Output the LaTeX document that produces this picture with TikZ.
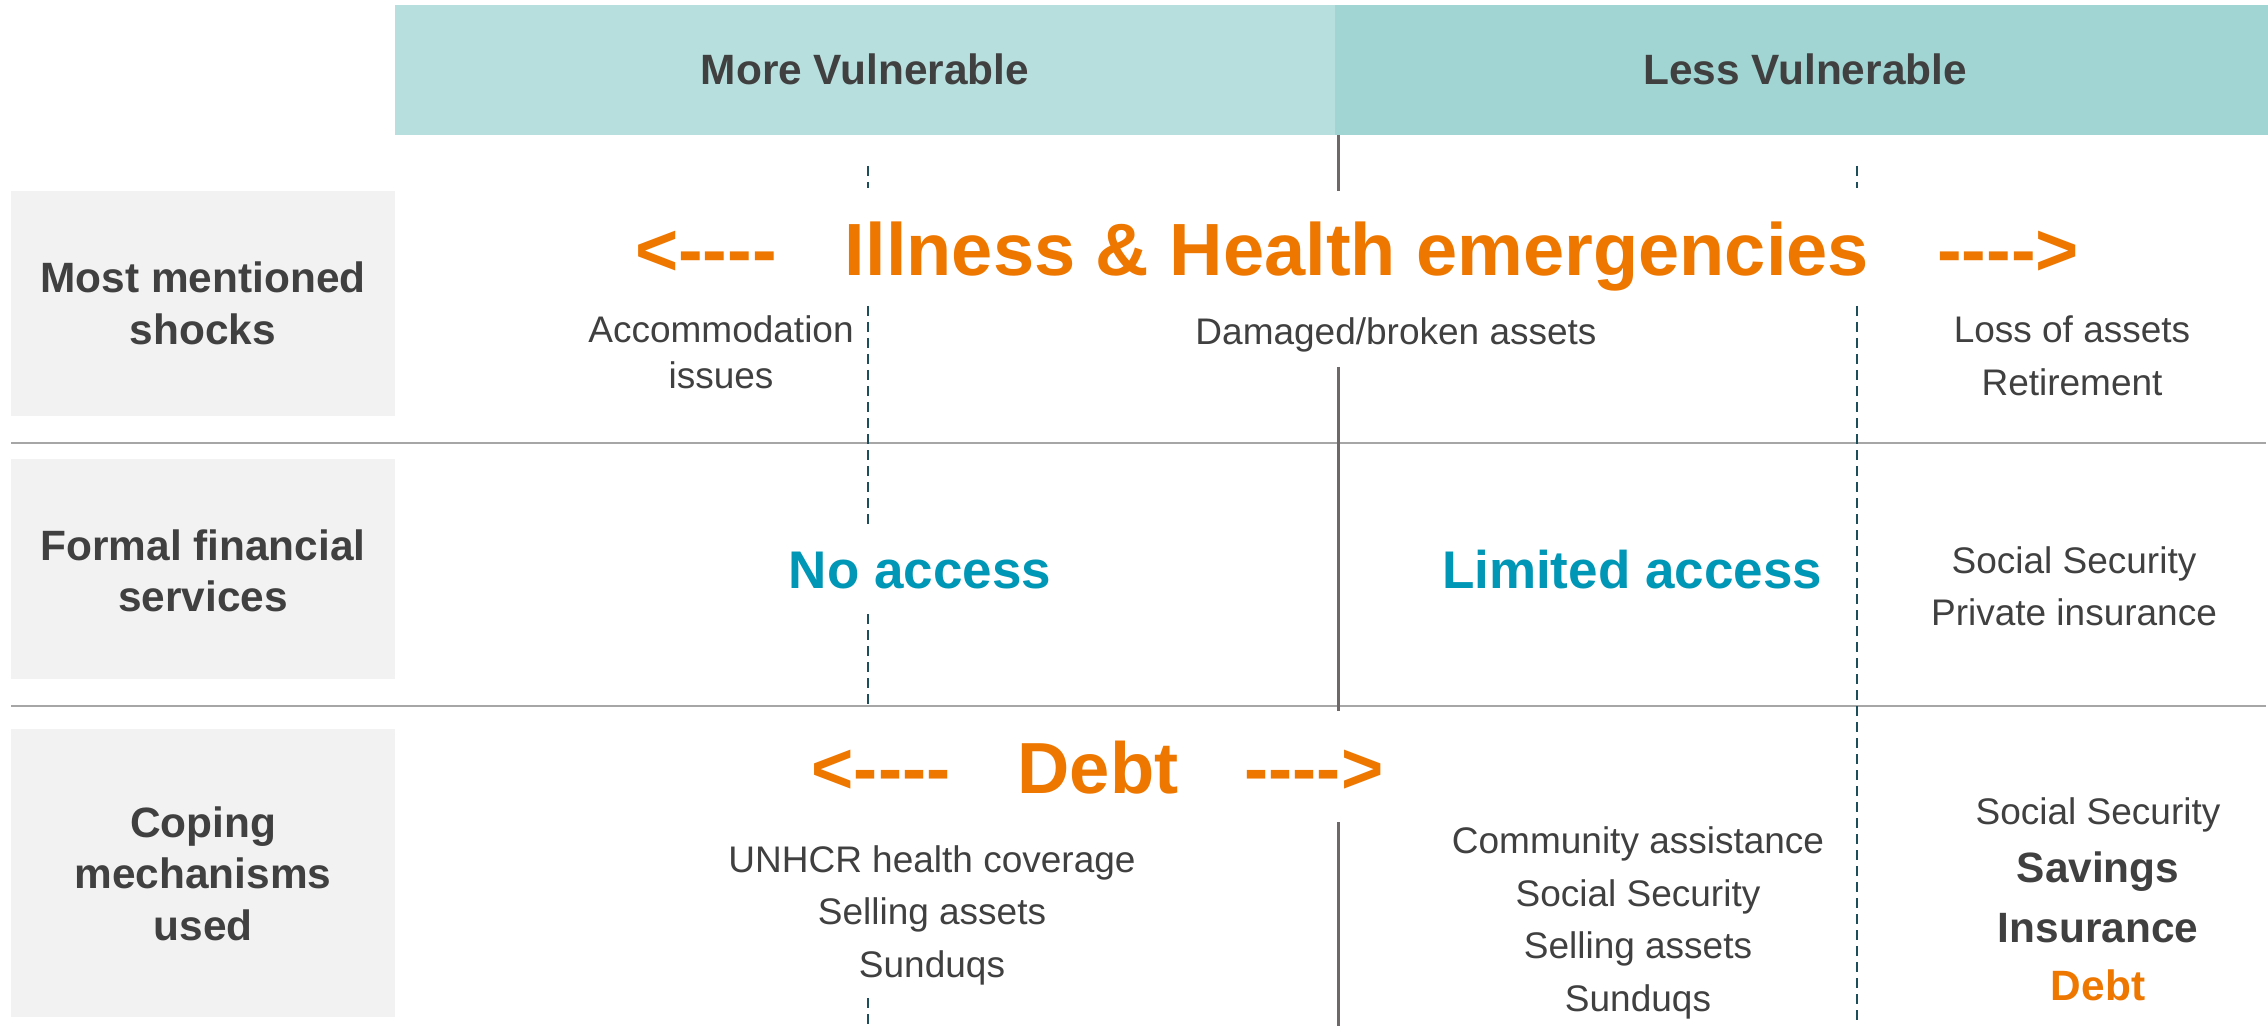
\documentclass[tikz,border=0pt]{standalone}
\usepackage{fontspec}
\setmainfont{Liberation Sans}
\definecolor{bandA}{HTML}{B6DFDE}
\definecolor{bandB}{HTML}{A0D5D3}
\definecolor{cellgray}{HTML}{F2F2F2}
\definecolor{ink}{HTML}{404040}
\definecolor{orng}{HTML}{EE7700}
\definecolor{accblue}{HTML}{0096B6}
\definecolor{rule}{HTML}{A6A6A6}
\definecolor{divider}{HTML}{6E6868}
\definecolor{dashc}{HTML}{1E4D5C}
% arrow-like strings built from separate hyphens (no dash ligatures)
\newcommand{\leftdashes}{<-{}-{}-{}-}
\newcommand{\rightdashes}{-{}-{}-{}->}
\tikzset{
  every node/.style={inner sep=0pt, anchor=base},
  plain/.style={text=ink, font=\fontsize{18.5}{22}\selectfont},
  strong/.style={text=ink, font=\fontsize{21.2}{25}\selectfont\bfseries},
  shock/.style={text=orng, font=\fontsize{37}{44}\selectfont\bfseries},
  debtbig/.style={text=orng, font=\fontsize{36.2}{43}\selectfont\bfseries},
  access/.style={text=accblue, font=\fontsize{26.5}{31}\selectfont\bfseries},
  hline/.style={draw=rule, line width=1.3pt},
  solidsep/.style={draw=divider, line width=1.5pt},
  dashsep/.style={draw=dashc, line width=1pt, dash pattern=on 5pt off 3pt},
}
\begin{document}
\begin{tikzpicture}[x=0.5pt, y=-0.5pt]
\useasboundingbox (0,0) rectangle (2268,1026);
\fill[white] (0,0) rectangle (2268,1026);

% header band
\fill[bandA] (395,5) rectangle (1335,135);
\fill[bandB] (1335,5) rectangle (2268,135);
\node[strong] (hmore) at (865,85) {More Vulnerable};
\node[strong] (hless) at (1805,85) {Less Vulnerable};

% row label cells
\fill[cellgray] (11,191) rectangle (395,416);
\fill[cellgray] (11,459) rectangle (395,679);
\fill[cellgray] (11,729) rectangle (395,1017);

% row rules
\draw[hline] (11,443) -- (2266,443);
\draw[hline] (11,706) -- (2266,706);

% solid column divider
\draw[solidsep] (1338,135) -- (1338,191);
\draw[solidsep] (1338,367) -- (1338,711);
\draw[solidsep] (1338,822) -- (1338,1026);

% dashed sub-dividers
\draw[dashsep] (868,166) -- (868,188);
\draw[dashsep] (868,306) -- (868,524);
\draw[dashsep] (868,614) -- (868,706);
\draw[dashsep] (868,998) -- (868,1026);
\draw[dashsep] (1857,166) -- (1857,188);
\draw[dashsep] (1857,306) -- (1857,1026);

% row labels
\node[strong] (l1a) at (203,293) {Most mentioned};
\node[strong] (l1b) at (203,345) {shocks};
\node[strong] (l2a) at (203,560) {Formal financial};
\node[strong] (l2b) at (203,611) {services};
\node[strong] (l3a) at (203,837) {Coping};
\node[strong] (l3b) at (203,888) {mechanisms};
\node[strong] (l3c) at (203,940) {used};

% row 1: shocks
\node[shock] (shl) at (706,276) {\leftdashes};
\node[shock] (shk) at (1357,276) {Illness \& Health emergencies};
\node[shock] (shr) at (2008,276) {\rightdashes};
\node[plain] (acc1) at (721,343) {Accommodation};
\node[plain] (acc2) at (721,388) {issues};
\node[plain] (dmg) at (1396,345) {Damaged/broken assets};
\node[plain] (loss) at (2072,343) {Loss of assets};
\node[plain] (ret) at (2072,395) {Retirement};

% row 2: formal financial services
\node[access] (noacc) at (920,588) {No access};
\node[access] (limacc) at (1632,588) {Limited access};
\node[plain] (ss1) at (2074,573) {Social Security};
\node[plain] (pins) at (2074,625) {Private insurance};

% row 3: coping mechanisms
\node[debtbig] (dl) at (881,793) {\leftdashes};
\node[debtbig] (debt) at (1098,793) {Debt};
\node[debtbig] (dr) at (1314,793) {\rightdashes};
\node[plain] (c1a) at (932,872) {UNHCR health coverage};
\node[plain] (c1b) at (932,924) {Selling assets};
\node[plain] (c1c) at (932,977) {Sunduqs};
\node[plain] (c2a) at (1638,853) {Community assistance};
\node[plain] (c2b) at (1638,906) {Social Security};
\node[plain] (c2c) at (1638,958) {Selling assets};
\node[plain] (c2d) at (1638,1011) {Sunduqs};
\node[plain] (c3a) at (2098,824) {Social Security};
\node[strong] (c3b) at (2098,882) {Savings};
\node[strong] (c3c) at (2098,942) {Insurance};
\node[strong, text=orng] (c3d) at (2098,1000) {Debt};
\end{tikzpicture}
\end{document}
